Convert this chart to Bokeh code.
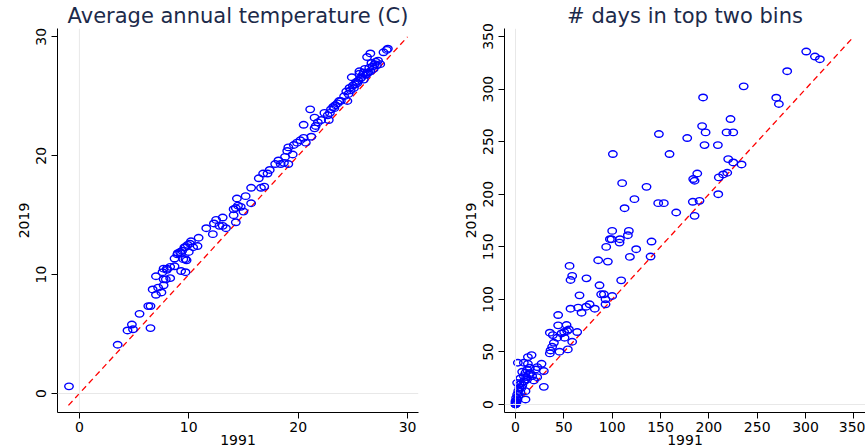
from bokeh.plotting import figure
from bokeh.layouts import row
from bokeh.models import FixedTicker, Span, Range1d
from bokeh.embed import file_html
from bokeh.resources import INLINE

# ---- data: average annual temperature (C) ----
temp_1991 = [-0.95, 3.5, 4.4, 4.8, 4.9, 5.5, 6.3, 6.5, 6.5, 6.7, 7.0, 7.0, 7.2, 7.5, 7.7, 7.7,
             7.6, 7.7, 8.0, 8.3, 8.3, 8.7, 8.7, 8.96, 9.2, 9.3, 9.4, 9.5, 9.6, 9.7, 9.8, 9.7,
             9.9, 10.0, 10.2, 10.4, 10.8, 10.9, 11.6, 12.2, 12.3, 12.5, 12.8, 13.1, 13.1, 13.4,
             14.1, 14.1, 14.3, 14.3, 14.4, 14.5, 14.75, 15.0, 15.2, 15.7, 15.7, 16.4, 16.6, 16.8,
             16.9, 17.2, 17.4, 17.9, 18.2, 18.4, 18.7, 18.8, 19.0, 19.1, 19.1, 19.5, 19.6, 19.9,
             20.2, 20.5, 20.5, 20.7, 21.1, 21.2, 21.5, 21.5, 21.6, 21.8, 22.1, 22.4, 22.8, 22.7,
             23.0, 23.2, 23.4, 23.6, 23.75, 24.2, 24.5, 24.4, 24.7, 24.9, 25.0, 25.2, 25.4, 25.5,
             25.6, 25.7, 25.9, 26.0, 26.1, 26.3, 26.3, 26.5, 26.6, 26.7, 26.9, 27.0, 27.3, 27.5,
             27.8, 28.1, 28.2,
             25.3, 25.8, 26.2, 26.4, 25.1, 24.8, 26.8, 27.2, 25.6, 26.0, 24.6, 23.9, 23.3, 22.9,
             26.6, 27.1, 9.0, 9.3, 9.7, 10.1, 8.0, 7.9]
temp_2019 = [0.6, 4.1, 5.3, 5.8, 5.4, 6.7, 7.35, 7.35, 5.5, 8.75, 8.3, 9.86, 8.9, 8.5, 9.1, 9.6,
             10.2, 10.5, 10.5, 9.7, 10.65, 11.35, 10.7, 11.7, 11.9, 10.3, 12.0, 11.3, 12.3, 11.3,
             11.2, 10.2, 12.5, 11.9, 12.8, 12.3, 12.4, 13.1, 13.9, 13.4, 14.3, 14.6, 14.1, 14.8,
             14.1, 13.9, 15.0, 15.5, 15.6, 14.4, 16.4, 15.8, 15.7, 15.3, 16.6, 16.0, 17.3, 18.1,
             17.3, 18.5, 17.4, 18.5, 18.8, 19.3, 19.6, 19.3, 19.4, 19.9, 20.4, 20.7, 19.3, 20.1,
             20.9, 21.1, 21.3, 21.5, 22.6, 21.1, 23.9, 21.6, 22.3, 23.2, 22.5, 22.8, 23.0, 23.6,
             23.0, 23.4, 23.9, 24.1, 24.25, 24.4, 24.6, 25.0, 24.6, 25.4, 25.7, 26.6, 25.9, 26.0,
             26.1, 26.3, 27.1, 26.5, 26.8, 26.4, 27.3, 26.9, 28.3, 27.4, 28.6, 27.8, 27.3, 27.7,
             28.0, 27.7, 28.7, 28.9, 29.0,
             26.2, 26.6, 26.8, 27.0, 25.7, 25.5, 27.5, 27.6, 26.9, 27.0, 25.2, 24.6, 24.0, 23.6,
             27.1, 27.9, 11.8, 11.8, 12.3, 12.6, 10.4, 9.6]

# ---- data: number of days in top two bins ----
days_1991 = [300.7, 309.7, 314.8, 281, 236, 194, 269.7, 272.4, 222.4, 193, 196.6, 218.3, 225.2,
             148.3, 177.6, 195.5, 209.3, 100.7, 159.3, 220, 225.2, 233.8, 188, 219, 214.8, 210.3,
             183.8, 185.2, 110.3, 135.5, 209.7, 123, 147.6, 153.4, 190.3, 183.4, 112.8, 166.2,
             185.2, 100, 117.2, 116.2, 97.6, 99.3, 108, 107.6, 140.7, 93.8, 124.8, 118.3, 139.7,
             85.5, 95.5, 55.9, 58.6, 56.9, 73.4, 109.3, 86.9, 66.2, 88.6, 91.4, 100, 93.1, 56.9,
             64.8, 73.1, 76.6, 68.3, 82, 93.1, 44.1, 35.5, 38.6, 44.1, 47.6, 52.8, 50.3, 53.4,
             55.2, 50.7, 43.1, 63.8, 58.6, 39.7, 37.9, 36.2, 35.5, 45.5, 54.1, 2.4, 8.6, 12.8,
             16.6, 12.8, 26.9, 22.4, 20.7, 29.3, 6.9, 10.3, 14.8, 8.6, 17.2, 22.4, 12, 19, 29.3,
             1.7, 4.1, 6.2, 10.3, 10.3, 2.8, 1.7, 0.7, 0, 0, 0, 8.6, 5, 13.8,
             0, 1, 2, 3, 5, 7, 9, 11, 15, 4, 6, 12, 0.5, 1.5]
days_2019 = [335.7, 330.9, 328.4, 317, 302.6, 292, 291.8, 285.8, 271.5, 264.8, 258.8, 258.8, 258.8,
             257.2, 253.4, 246.7, 246.7, 238.2, 238.2, 233.4, 230.2, 228.3, 219.7, 220.4, 218.8, 216,
             214.4, 212.8, 210.5, 207, 200, 195.3, 191.5, 191.5, 193.7, 192.8, 186.7, 182.6,
             179.4, 165.1, 165.1, 161, 157.2, 157.2, 157.2, 154, 155, 149.9, 147.7, 140.4, 140.7,
             137.2, 135.9, 131.8, 122.3, 118.4, 120, 118.1, 113.4, 103.8, 104.8, 104.8, 103.2, 100,
             91.1, 92.1, 93, 95.3, 87.3, 91.1, 95.3, 85.1, 68.3, 66, 75.3, 67.6, 75.6, 68.9, 69.9,
             71.4, 63.5, 63.5, 68.9, 59.7, 58.7, 54.9, 51.4, 48.6, 50.2, 52.4, 39.7, 39.7, 38.7,
             47, 45.1, 38.7, 35.6, 33.3, 31.8, 31.1, 30.2, 34.9, 27, 27, 26, 23.8, 22.9, 16.8,
             20.6, 19, 15.9, 12.7, 4.8, 12.7, 9.5, 6.4, 3.2, 1.6, 0, 22, 24.8, 28.6,
             0, 2, 5, 8, 12, 18, 22, 26, 30, 16, 20, 33, 1, 4]

temp_ticks = [0, 10, 20, 30]
days_ticks = [0, 50, 100, 150, 200, 250, 300, 350]
temp_line = [-1, 30]
days_line = [0, 350]

FONT = "DejaVu Sans"
TITLE_COLOR = "#1c2a4a"
MARKER_COLOR = "#0000ff"


def make_panel(title, xs, ys, ticks, line, xr, yr, width, left, right):
    p = figure(width=width, height=448, output_backend="svg", toolbar_location=None,
               x_range=Range1d(*xr), y_range=Range1d(*yr),
               min_border_left=left, min_border_right=right,
               min_border_top=28, min_border_bottom=36)
    p.title.text = title
    p.title.align = "center"
    p.title.text_font = FONT
    p.title.text_font_size = "21px"
    p.title.text_font_style = "normal"
    p.title.text_color = TITLE_COLOR
    p.title.standoff = 1
    p.outline_line_color = None
    p.xgrid.visible = False
    p.ygrid.visible = False
    p.background_fill_color = "white"
    p.border_fill_color = "white"

    for ax, lab in ((p.xaxis[0], "1991"), (p.yaxis[0], "2019")):
        ax.ticker = FixedTicker(ticks=ticks)
        ax.axis_label = lab
        ax.axis_label_text_font = FONT
        ax.axis_label_text_font_size = "14px"
        ax.axis_label_text_font_style = "normal"
        ax.axis_label_text_color = "black"
        ax.major_label_text_font = FONT
        ax.major_label_text_font_size = "14px"
        ax.major_label_text_color = "black"
        ax.axis_line_color = "black"
        ax.axis_line_width = 1
        ax.major_tick_line_color = "black"
        ax.major_tick_out = 6
        ax.major_tick_in = 0
        ax.minor_tick_line_color = None
    p.xaxis[0].major_label_standoff = 3
    p.xaxis[0].axis_label_standoff = 0
    p.yaxis[0].major_label_orientation = "vertical"
    p.yaxis[0].major_label_standoff = 5
    p.yaxis[0].axis_label_standoff = 5

    p.add_layout(Span(location=0, dimension="width", line_color="#e8e8e8", line_width=1))
    p.add_layout(Span(location=0, dimension="height", line_color="#e8e8e8", line_width=1))

    p.line(line, line, line_color="red", line_dash="6 4", line_width=1.3)
    p.ellipse(xs, ys, width=8.5, height=6.5, width_units="screen", height_units="screen",
              fill_color=None, line_color=MARKER_COLOR, line_width=1.4)
    return p


p1 = make_panel("Average annual temperature (C)", temp_1991, temp_2019, temp_ticks, temp_line,
                (-2.0, 31.0), (-1.6, 30.7), 435, 57, 17)
p2 = make_panel("# days in top two bins", days_1991, days_2019, days_ticks, days_line,
                (-11.4, 362.0), (-7.6, 357.6), 430, 69, 0)

layout = row(p1, p2)
open("out.html", "w").write(file_html(layout, INLINE))
